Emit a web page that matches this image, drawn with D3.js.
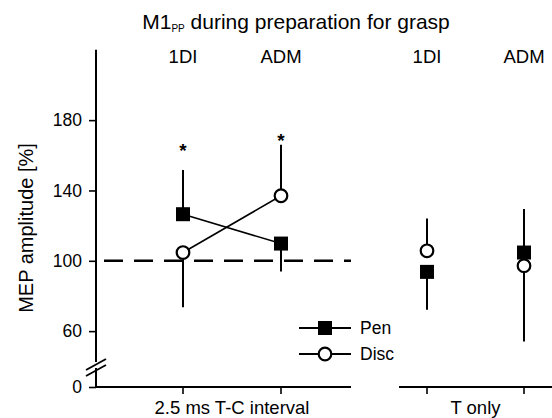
<!DOCTYPE html>
<html>
<head>
<meta charset="utf-8">
<script src="https://cdn.jsdelivr.net/npm/d3@7"></script>
<style>
  body { margin: 0; background: #fff; }
  svg { display: block; font-family: "Liberation Sans", Arial, sans-serif; }
</style>
</head>
<body>
<div id="chart"></div>
<script>
// conditions (panels) and muscles
const conditions = ['2.5 ms T-C interval', 'T only'];
const muscles = ['1DI', 'ADM'];
const groups = ['Pen', 'Disc'];

// MEP amplitude [%] per condition, per muscle (1DI, ADM)
const penMean = [[126.5, 109.8], [93.7, 104.7]];
const discMean = [[104.7, 137.0], [105.7, 97.2]];
// one-sided error bar ends
const penErrEnd = [[151.6, 93.9], [72.1, 129.4]];
const discErrEnd = [[73.6, 166.0], [124.0, 54.1]];

// significance stars (condition 0 only), value where the star sits
const starMuscles = ['1DI', 'ADM'];
const starValues = [165.4, 171.0];

const yTicks = [0, 60, 100, 140, 180];
const baseline = 100;

const W = 552, H = 418;
const svg = d3.select('#chart').append('svg').attr('width', W).attr('height', H);

// broken y axis: 0 squeezed just under the break
const y = d3.scaleLinear().domain([0, 40, 220]).range([387, 366.3, 49.8]);

const panels = [
  { axis: [96, 351], points: [183, 281] },
  { axis: [399, 560], points: [427, 524] }
];
const xs = panels.map(p => d3.scalePoint().domain(muscles).range(p.points));

// title
const title = svg.append('text').attr('x', 296).attr('y', 29)
  .attr('text-anchor', 'middle').style('font-size', '21px');
title.append('tspan').text('M1');
title.append('tspan').style('font-size', '10px').attr('dy', 3).text('PP');
title.append('tspan').attr('dy', -3).text(' during preparation for grasp');

// y axis
const yAxis = svg.append('g').attr('transform', 'translate(96,0)')
  .call(d3.axisLeft(y).tickValues(yTicks).tickSize(7).tickPadding(7).tickFormat(d3.format('d')));
yAxis.attr('font-family', null).attr('font-size', null);
yAxis.select('.domain').remove();
yAxis.append('line').attr('y1', y.range()[2]).attr('y2', y(0))
  .attr('stroke', '#000').attr('stroke-width', 2);
yAxis.selectAll('.tick line').attr('stroke-width', 1.6);
yAxis.selectAll('.tick text').style('font-size', '17.5px').attr('fill', '#000');

// axis break
const brk = svg.append('g');
brk.append('rect').attr('x', 90).attr('y', 362).attr('width', 12).attr('height', 6).attr('fill', '#fff');
[0, 6].forEach(off => {
  brk.append('line')
    .attr('x1', 86).attr('y1', 370 + off).attr('x2', 106).attr('y2', 359 + off)
    .attr('stroke', '#000').attr('stroke-width', 1.8);
});

// x axes (one per panel)
panels.forEach((p, i) => {
  const g = svg.append('g');
  g.append('line').attr('x1', p.axis[0]).attr('x2', p.axis[1])
    .attr('y1', y(0)).attr('y2', y(0)).attr('stroke', '#000').attr('stroke-width', 2);
  g.selectAll('.xt').data(muscles).join('line')
    .attr('x1', d => xs[i](d)).attr('x2', d => xs[i](d))
    .attr('y1', y(0)).attr('y2', y(0) + 7)
    .attr('stroke', '#000').attr('stroke-width', 1.6);
  g.append('text')
    .attr('x', (xs[i](muscles[0]) + xs[i](muscles[1])) / 2)
    .attr('y', 414).attr('text-anchor', 'middle').style('font-size', '18.5px')
    .text(conditions[i]);
  g.selectAll('.ml').data(muscles).join('text')
    .attr('x', d => xs[i](d)).attr('y', 63)
    .attr('text-anchor', 'middle').style('font-size', '18.5px')
    .text(d => d);
});

// 100 % reference
svg.append('line')
  .attr('x1', 96).attr('x2', 351).attr('y1', y(baseline)).attr('y2', y(baseline))
  .attr('stroke', '#000').attr('stroke-width', 2.6).attr('stroke-dasharray', '19,11')
  .attr('stroke-dashoffset', -8);

const series = [
  { name: 'Pen', mean: penMean, err: penErrEnd },
  { name: 'Disc', mean: discMean, err: discErrEnd }
];

// error bars
series.forEach(s => {
  conditions.forEach((c, ci) => {
    muscles.forEach((m, mi) => {
      svg.append('line')
        .attr('x1', xs[ci](m)).attr('x2', xs[ci](m))
        .attr('y1', y(s.mean[ci][mi])).attr('y2', y(s.err[ci][mi]))
        .attr('stroke', '#000').attr('stroke-width', 2);
    });
  });
});

// connecting lines only for the T-C interval panel
series.forEach(s => {
  svg.append('path')
    .datum(muscles.map((m, mi) => [xs[0](m), y(s.mean[0][mi])]))
    .attr('d', d3.line())
    .attr('fill', 'none').attr('stroke', '#000').attr('stroke-width', 1.6);
});

function drawMarker(g, name, cx, cy) {
  if (name === 'Pen') {
    g.append('rect').attr('x', cx - 7).attr('y', cy - 7).attr('width', 14).attr('height', 14)
      .attr('fill', '#000');
  } else {
    g.append('circle').attr('cx', cx).attr('cy', cy).attr('r', 6.3)
      .attr('fill', '#fff').attr('stroke', '#000').attr('stroke-width', 2.2);
  }
}

series.forEach(s => {
  conditions.forEach((c, ci) => {
    muscles.forEach((m, mi) => drawMarker(svg, s.name, xs[ci](m), y(s.mean[ci][mi])));
  });
});

// stars
svg.selectAll('.star').data(starMuscles).join('text')
  .attr('x', d => xs[0](d)).attr('y', (d, i) => y(starValues[i]) + 11)
  .attr('text-anchor', 'middle').style('font-size', '19px').attr('font-weight', 'bold')
  .text('*');

// y label
svg.append('text')
  .attr('transform', 'translate(33,228) rotate(-90)')
  .attr('text-anchor', 'middle').style('font-size', '20px')
  .text('MEP amplitude [%]');

// legend
const legend = svg.append('g');
groups.forEach((gname, i) => {
  const ly = 328 + i * 26;
  legend.append('line').attr('x1', 299).attr('x2', 351).attr('y1', ly).attr('y2', ly)
    .attr('stroke', '#000').attr('stroke-width', 2);
  drawMarker(legend, gname, 325, ly);
  legend.append('text').attr('x', 360).attr('y', ly + 6).style('font-size', '17.5px').text(gname);
});
</script>
</body>
</html>
